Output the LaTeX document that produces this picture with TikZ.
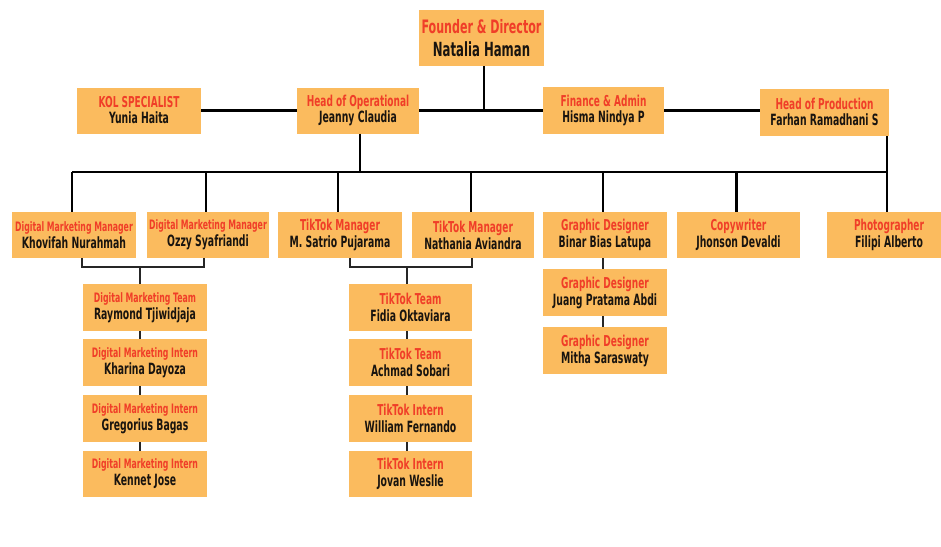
\documentclass[tikz,border=0pt]{standalone}
\usepackage{fontspec}
\newfontfamily\orgfont{DejaVu Sans}[FakeStretch=0.6]
\definecolor{boxfill}{RGB}{251,187,94}
\definecolor{titlered}{RGB}{240,62,40}
\definecolor{namebk}{RGB}{25,20,15}
\begin{document}
\begin{tikzpicture}[x=1pt,y=-1pt,
  box/.style={fill=boxfill,draw=none,minimum width=124pt,minimum height=46pt,inner sep=0pt,align=center,font=\orgfont\bfseries\fontsize{15}{17}\selectfont},
  lvone/.style={font=\orgfont\bfseries\fontsize{15}{16}\selectfont},
  lvzero/.style={font=\orgfont\bfseries\fontsize{19}{23}\selectfont},
  conn/.style={draw=black,line width=2.6pt},
  thin/.style={draw=black!85,line width=2pt}]
\useasboundingbox (0,0) rectangle (941,546);
% #1 title size, #2 name size
\newcommand{\tl}[4]{{\fontsize{#1}{#1}\selectfont\color{titlered}#3}\\{\fontsize{#2}{#2}\selectfont\color{namebk}#4}}
% level 0
\node[box,lvzero,minimum width=125pt,minimum height=56pt] (founder) at (481.5,38) {\tl{18.5}{19.5}{Founder \& Director}{Natalia Haman}};
% level 1
\node[box,lvone] (kol) at (139,110.5) {\tl{15}{15.5}{KOL SPECIALIST}{Yunia Haita}};
\node[box,lvone,minimum width=122pt] (ops) at (358,110.5) {\tl{15}{15.5}{Head of Operational}{Jeanny Claudia}};
\node[box,lvone,minimum width=121pt,minimum height=47pt] (fin) at (603.5,110.5) {\tl{15}{15.5}{Finance \& Admin}{Hisma Nindya P}};
\node[box,lvone,minimum width=129pt,minimum height=47pt] (prod) at (824.5,112) {\tl{15}{15.5}{Head of Production}{Farhan Ramadhani S}};
% level 2
\node[box] (dmm1) at (74,235) {\tl{13}{15.5}{Digital Marketing Manager}{Khovifah Nurahmah}};
\node[box,minimum width=122pt] (dmm2) at (208,235) {\tl{13}{15.5}{Digital Marketing Manager}{Ozzy Syafriandi}};
\node[box] (tkm1) at (340,235) {\tl{15}{15.5}{TikTok Manager}{M. Satrio Pujarama}};
\node[box,minimum width=122pt] (tkm2) at (473,235) {\tl{15}{15.5}{TikTok Manager}{Nathania Aviandra}};
\node[box] (gd1) at (605,235) {\tl{15}{15.5}{Graphic Designer}{Binar Bias Latupa}};
\node[box,minimum width=123pt] (copy) at (738.5,235) {\tl{15}{15.5}{Copywriter}{Jhonson Devaldi}};
\node[box] (photo) at (889,235) {\tl{15}{15.5}{Photographer}{Filipi Alberto}};
% digital marketing column
\node[box,minimum height=47pt] (dmt1) at (145,307.5) {\tl{13}{15.5}{Digital Marketing Team}{Raymond Tjiwidjaja}};
\node[box,minimum height=47pt] (dmt2) at (145,362.5) {\tl{13}{15.5}{Digital Marketing Intern}{Kharina Dayoza}};
\node[box,minimum height=47pt] (dmt3) at (145,418.5) {\tl{13}{15.5}{Digital Marketing Intern}{Gregorius Bagas}};
\node[box] (dmt4) at (145,474) {\tl{13}{15.5}{Digital Marketing Intern}{Kennet Jose}};
% tiktok column
\node[box,minimum width=123pt,minimum height=47pt] (tkt1) at (410.5,307.5) {\tl{15}{15.5}{TikTok Team}{Fidia Oktaviara}};
\node[box,minimum width=123pt,minimum height=47pt] (tkt2) at (410.5,362.5) {\tl{15}{15.5}{TikTok Team}{Achmad Sobari}};
\node[box,minimum width=123pt,minimum height=47pt] (tkt3) at (410.5,418.5) {\tl{15}{15.5}{TikTok Intern}{William Fernando}};
\node[box,minimum width=123pt] (tkt4) at (410.5,474) {\tl{15}{15.5}{TikTok Intern}{Jovan Weslie}};
% graphic column
\node[box,minimum height=47pt] (gd2) at (605,292.5) {\tl{15}{15.5}{Graphic Designer}{Juang Pratama Abdi}};
\node[box,minimum height=47pt] (gd3) at (605,350.5) {\tl{15}{15.5}{Graphic Designer}{Mitha Saraswaty}};
% connectors level 0-1
\coordinate (top) at (484,111);
\draw[conn] ([xshift=2.5pt]founder.south) -- (top);
\draw[conn] (kol.east) -- (ops.west);
\draw[conn] (ops.east) -- (fin.west);
\draw[conn] (fin.east) -- (fin.east -| prod.west);
% bus level 2
\coordinate (bus) at (0,172);
\draw[conn] ([xshift=2pt]ops.south) -- ([xshift=2pt]ops.south |- bus);
\draw[conn] ([xshift=-2pt]dmm1.north |- bus) -- ([xshift=-2pt]photo.north |- bus) -- ([xshift=-2pt]photo.north |- prod.south);
\foreach \n in {dmm1,dmm2,tkm1,tkm2,gd1,copy,photo}
  \draw[conn] ([xshift=-2pt]\n.north |- bus) -- ([xshift=-2pt]\n.north);
% brackets
\coordinate (br) at (0,267);
\draw[thin] ([xshift=8pt]dmm1.south) -- ([xshift=8pt]dmm1.south |- br) -- ([xshift=-4pt]dmm2.south |- br) -- ([xshift=-4pt]dmm2.south);
\draw[thin] ([xshift=-5pt]dmt1.north |- br) -- ([xshift=-5pt]dmt1.north);
\draw[thin] ([xshift=10pt]tkm1.south) -- ([xshift=10pt]tkm1.south |- br) -- ([xshift=-1pt]tkm2.south |- br) -- ([xshift=-1pt]tkm2.south);
\draw[thin] ([xshift=-3.5pt]tkt1.north |- br) -- ([xshift=-3.5pt]tkt1.north);
% column links
\foreach \a/\b in {dmt1/dmt2,dmt2/dmt3,dmt3/dmt4}
  \draw[thin] ([xshift=-5pt]\a.south) -- ([xshift=-5pt]\b.north);
\foreach \a/\b in {tkt1/tkt2,tkt2/tkt3,tkt3/tkt4}
  \draw[thin] ([xshift=-3.5pt]\a.south) -- ([xshift=-3.5pt]\b.north);
\foreach \a/\b in {gd1/gd2,gd2/gd3}
  \draw[thin] ([xshift=-2pt]\a.south) -- ([xshift=-2pt]\b.north);
\end{tikzpicture}
\end{document}
